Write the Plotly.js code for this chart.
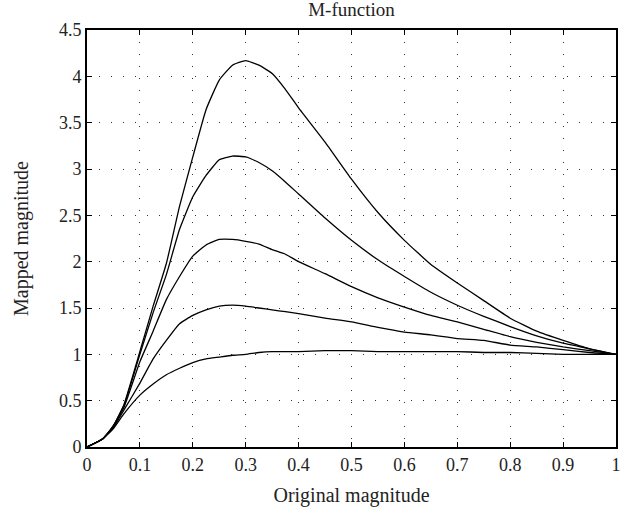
<!DOCTYPE html>
<html>
<head>
<meta charset="utf-8">
<script src="https://cdn.plot.ly/plotly-3.0.1.min.js"></script>
<style>html,body{margin:0;padding:0;background:#fff;}</style>
</head>
<body>
<div id="chart" style="width:639px;height:514px;"></div>
<script>
const xValues = [0, 0.03, 0.05, 0.07, 0.1, 0.125, 0.15, 0.175, 0.2, 0.225, 0.25, 0.275, 0.3, 0.325, 0.35, 0.375, 0.4, 0.45, 0.5, 0.55, 0.6, 0.65, 0.7, 0.75, 0.8, 0.85, 0.9, 0.95, 1.0];
const curveA = [0, 0.09, 0.23, 0.46, 1.03, 1.52, 1.98, 2.60, 3.13, 3.64, 3.96, 4.12, 4.17, 4.12, 4.03, 3.86, 3.66, 3.29, 2.89, 2.53, 2.23, 1.97, 1.77, 1.58, 1.39, 1.25, 1.15, 1.06, 1.0];
const curveB = [0, 0.09, 0.23, 0.45, 1.0, 1.45, 1.86, 2.35, 2.70, 2.93, 3.10, 3.14, 3.13, 3.07, 2.98, 2.86, 2.73, 2.47, 2.23, 2.02, 1.84, 1.67, 1.53, 1.41, 1.30, 1.20, 1.12, 1.06, 1.0];
const curveC = [0, 0.09, 0.22, 0.43, 0.92, 1.25, 1.59, 1.84, 2.06, 2.18, 2.24, 2.24, 2.22, 2.19, 2.13, 2.08, 2.00, 1.87, 1.73, 1.61, 1.51, 1.42, 1.35, 1.27, 1.19, 1.13, 1.08, 1.04, 1.0];
const curveD = [0, 0.09, 0.21, 0.40, 0.69, 0.95, 1.15, 1.33, 1.42, 1.48, 1.52, 1.53, 1.52, 1.50, 1.48, 1.46, 1.44, 1.39, 1.35, 1.29, 1.24, 1.21, 1.17, 1.15, 1.10, 1.08, 1.05, 1.02, 1.0];
const curveE = [0, 0.09, 0.20, 0.36, 0.56, 0.68, 0.78, 0.85, 0.91, 0.95, 0.97, 0.99, 1.0, 1.02, 1.03, 1.03, 1.03, 1.04, 1.04, 1.03, 1.03, 1.03, 1.03, 1.02, 1.02, 1.01, 1.0, 1.0, 1.0];
const xTicks = [0, 0.1, 0.2, 0.3, 0.4, 0.5, 0.6, 0.7, 0.8, 0.9, 1];
const yTicks = [0, 0.5, 1, 1.5, 2, 2.5, 3, 3.5, 4, 4.5];

const series = [curveA, curveB, curveC, curveD, curveE];
const traces = series.map(ys => ({
  x: xValues, y: ys, type: 'scatter', mode: 'lines',
  line: {color: '#000', width: 1.3, shape: 'spline', smoothing: 0.4}, hoverinfo: 'skip', showlegend: false
}));

const fontFam = '"Liberation Serif", "DejaVu Serif", serif';
const axisCommon = {
  showline: true, linecolor: '#000', linewidth: 2, mirror: 'ticks',
  ticks: 'inside', ticklen: 5, tickwidth: 1, tickcolor: '#000',
  showgrid: true, gridcolor: '#333', gridwidth: 1, griddash: '1px,11px',
  zeroline: false, tickfont: {family: fontFam, size: 18, color: '#222'}
};

const layout = {
  width: 639, height: 514,
  margin: {l: 87, r: 23, t: 30, b: 67},
  paper_bgcolor: '#fff', plot_bgcolor: '#fff',
  font: {family: fontFam, color: '#222'},
  title: {text: 'M-function', font: {family: fontFam, size: 19, color: '#222'}, x: 0.5, xanchor: 'center', xref: 'paper', y: 0.982, yref: 'container', yanchor: 'middle'},
  xaxis: Object.assign({}, axisCommon, {
    range: [0, 1], tickvals: xTicks, ticktext: xTicks.map(String),
    title: {text: 'Original magnitude', font: {family: fontFam, size: 20, color: '#222'}, standoff: 14}
  }),
  yaxis: Object.assign({}, axisCommon, {
    range: [0, 4.5], tickvals: yTicks, ticktext: yTicks.map(String),
    title: {text: 'Mapped magnitude', font: {family: fontFam, size: 20, color: '#222'}, standoff: 25}
  })
};

Plotly.newPlot('chart', traces, layout, {staticPlot: true, displayModeBar: false});
</script>
</body>
</html>
